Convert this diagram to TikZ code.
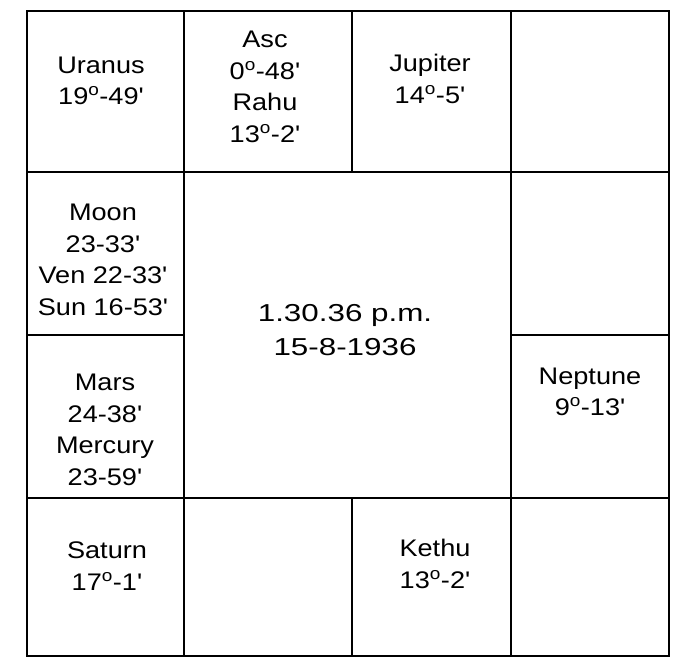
\documentclass[tikz,border=0pt]{standalone}
\usepackage{fontspec}
\setmainfont{Liberation Sans}
\newfontfamily\cellfont[FakeStretch=1.13]{Liberation Sans}
\newfontfamily\datefont[FakeStretch=1.28]{Liberation Sans}
\newcommand{\degr}{\textsuperscript{o}}

\begin{document}
\begin{tikzpicture}[x=1pt, y=-1pt,
    grid/.style={line width=2.5pt, line cap=rect},
    planet/.style={font=\cellfont\fontsize{24}{31.5}\selectfont, align=center, inner sep=0pt},
    birth/.style={font=\datefont\fontsize{24.5}{34}\selectfont, align=center, inner sep=0pt}]

    \useasboundingbox (0,0) rectangle (693,667);

    % ================= 外框与格线 =================
    \coordinate (NW) at (27,11);
    \coordinate (SE) at (669,656);
    \draw[grid] (NW) rectangle (SE);

    % 横线
    \draw[grid] (27,172) -- (669,172);
    \draw[grid] (27,498) -- (669,498);
    \draw[grid] (27,335) -- (184,335);
    \draw[grid] (511,335) -- (669,335);

    % 竖线
    \draw[grid] (184,11) -- (184,656);
    \draw[grid] (511,11) -- (511,656);
    \draw[grid] (352,11) -- (352,172);
    \draw[grid] (352,498) -- (352,656);

    % ================= 各宫行星 =================
    \node[planet] (uranus) at (101,81) {Uranus\\19\degr-49'};
    \node[planet] (asc) at (265,87) {Asc\\0\degr-48'\\Rahu\\13\degr-2'};
    \node[planet] (jupiter) at (430,79) {Jupiter\\14\degr-5'};
    \node[planet] (moon) at (103,260) {Moon\\23-33'\\Ven 22-33'\\Sun 16-53'};
    \node[planet] (mars) at (105,430) {Mars\\24-38'\\Mercury\\23-59'};
    \node[planet] (neptune) at (590,392) {Neptune\\9\degr-13'};
    \node[planet] (saturn) at (107,566) {Saturn\\17\degr-1'};
    \node[planet] (kethu) at (435,564) {Kethu\\13\degr-2'};

    % 中间: 出生时间
    \node[birth] (time) at (345,330) {1.30.36 p.m.\\15-8-1936};

\end{tikzpicture}
\end{document}
